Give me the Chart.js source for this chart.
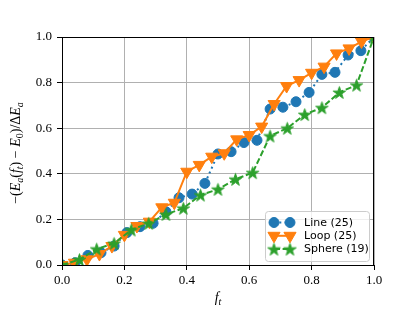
<!DOCTYPE html>
<html>
<head>
<meta charset="utf-8">
<script src="https://cdn.jsdelivr.net/npm/chart.js@4.4.1/dist/chart.umd.min.js"></script>
<style>
  html, body { margin: 0; padding: 0; background: #fff; }
  canvas { display: block; }
</style>
</head>
<body>
<canvas id="myChart" width="415" height="312"></canvas>
<script>
// valores
const labels = ['Line (25)', 'Loop (25)', 'Sphere (19)'];

const lineX = [0, 0.042, 0.083, 0.125, 0.167, 0.208, 0.25, 0.292, 0.333, 0.375, 0.417, 0.458, 0.5,
  0.542, 0.583, 0.625, 0.667, 0.708, 0.75, 0.792, 0.833, 0.875, 0.917, 0.958, 1];
const lineY = [0, 0.01, 0.042, 0.054, 0.083, 0.142, 0.168, 0.183, 0.234, 0.295, 0.311, 0.358, 0.487,
  0.497, 0.537, 0.547, 0.684, 0.692, 0.716, 0.757, 0.836, 0.845, 0.921, 0.94, 1];

const loopX = [0, 0.04, 0.08, 0.12, 0.16, 0.2, 0.24, 0.28, 0.32, 0.36, 0.4, 0.44, 0.48,
  0.52, 0.56, 0.6, 0.64, 0.68, 0.72, 0.76, 0.8, 0.84, 0.88, 0.92, 0.96, 1];
const loopY = [0, 0.01, 0.025, 0.048, 0.083, 0.132, 0.171, 0.19, 0.253, 0.273, 0.409, 0.439, 0.475,
  0.49, 0.551, 0.57, 0.607, 0.706, 0.785, 0.811, 0.843, 0.87, 0.928, 0.95, 0.98, 1];

const sphereX = [0, 0.056, 0.111, 0.167, 0.222, 0.278, 0.333, 0.389, 0.444, 0.5,
  0.556, 0.611, 0.667, 0.722, 0.778, 0.833, 0.889, 0.944, 1];
const sphereY = [0, 0.024, 0.07, 0.095, 0.154, 0.183, 0.222, 0.249, 0.307, 0.332,
  0.376, 0.405, 0.566, 0.6, 0.66, 0.69, 0.757, 0.789, 1];

const xTicks = [0, 0.2, 0.4, 0.6, 0.8, 1.0];
const yTicks = [0, 0.2, 0.4, 0.6, 0.8, 1.0];

const colors = ['#1f77b4', '#ff7f0e', '#2ca02c'];
const serif = '"Liberation Serif", "DejaVu Serif", serif';

// estrella de 5 puntas (el 'star' de Chart.js no es igual)
function makeStar(color, r) {
  const c = document.createElement('canvas');
  const s = Math.ceil(r * 2 + 2);
  c.width = s; c.height = s;
  const g = c.getContext('2d');
  const cx = s / 2, cy = s / 2 + r * 0.1;
  g.beginPath();
  for (let i = 0; i < 10; i++) {
    const rr = i % 2 === 0 ? r : r * 0.382;
    const a = -Math.PI / 2 + i * Math.PI / 5;
    g.lineTo(cx + rr * Math.cos(a), cy + rr * Math.sin(a));
  }
  g.closePath();
  g.fillStyle = color;
  g.strokeStyle = color;
  g.lineWidth = 1;
  g.fill();
  g.stroke();
  return c;
}
const star = makeStar(colors[2], 6.5);

const toPts = (xs, ys) => xs.map((x, i) => ({ x: x, y: ys[i] }));

// texto con subindices (para los titulos de los ejes)
function mathText(ctx, parts, x, y) {
  const big = 14, small = 10;
  let w = 0;
  parts.forEach(p => {
    ctx.font = (p.i ? 'italic ' : '') + (p.s ? small : big) + 'px ' + serif;
    p.w = ctx.measureText(p.t).width;
    w += p.w;
  });
  let cx = x - w / 2;
  ctx.textBaseline = 'alphabetic';
  ctx.textAlign = 'left';
  parts.forEach(p => {
    ctx.font = (p.i ? 'italic ' : '') + (p.s ? small : big) + 'px ' + serif;
    ctx.fillText(p.t, cx, y + (p.s ? 3 : 0));
    cx += p.w;
  });
}

const extras = {
  id: 'extras',
  afterDatasetsDraw(chart) {
    const ctx = chart.ctx, a = chart.chartArea;
    ctx.save();
    ctx.strokeStyle = '#000';
    ctx.lineWidth = 1;
    ctx.strokeRect(Math.round(a.left) + 0.5, Math.round(a.top) + 0.5,
      Math.round(a.right - a.left) - 1, Math.round(a.bottom - a.top));
    ctx.restore();
  },
  afterDraw(chart) {
    const ctx = chart.ctx, a = chart.chartArea;
    ctx.save();
    ctx.fillStyle = '#000';
    // titulo eje x
    mathText(ctx, [{ t: 'f', i: true }, { t: 't', i: true, s: true }], (a.left + a.right) / 2, 302);
    // titulo eje y
    ctx.translate(20, (a.top + a.bottom) / 2 + 2);
    ctx.rotate(-Math.PI / 2);
    mathText(ctx, [
      { t: '\u2212(' }, { t: 'E', i: true }, { t: 'a', i: true, s: true },
      { t: '(' }, { t: 'f', i: true }, { t: 't', i: true, s: true },
      { t: ') \u2212 ' }, { t: 'E', i: true }, { t: '0', s: true },
      { t: ')/\u0394' }, { t: 'E', i: true }, { t: 'a', i: true, s: true }
    ], 0, 0);
    ctx.restore();

    // leyenda
    const bx = 265.5, by = 211.5, bw = 104, bh = 50;
    ctx.save();
    ctx.beginPath();
    ctx.roundRect(bx, by, bw, bh, 3);
    ctx.fillStyle = 'rgba(255,255,255,0.8)';
    ctx.fill();
    ctx.strokeStyle = '#cccccc';
    ctx.lineWidth = 1;
    ctx.stroke();
    chart.data.datasets.forEach((ds, i) => {
      const y = 222.5 + i * 13.3;
      const x1 = 274, x2 = 290;
      ctx.beginPath();
      ctx.setLineDash(ds.borderDash || []);
      ctx.strokeStyle = ds.borderColor;
      ctx.lineWidth = ds.borderWidth;
      ctx.moveTo(x1, y); ctx.lineTo(x2, y);
      ctx.stroke();
      ctx.setLineDash([]);
      ctx.fillStyle = ds.backgroundColor;
      ctx.lineWidth = ds.pointBorderWidth || 1;
      [x1, x2].forEach(px => {
        Chart.helpers.drawPoint(ctx, {
          pointStyle: ds.pointStyle, rotation: ds.pointRotation || 0,
          radius: ds.pointRadius, borderWidth: ds.pointBorderWidth || 1
        }, px, y);
      });
      ctx.fillStyle = '#000';
      ctx.font = '11px "DejaVu Sans", sans-serif';
      ctx.textBaseline = 'middle';
      ctx.textAlign = 'left';
      ctx.fillText(ds.label, 304, y + 0.5);
    });
    ctx.restore();
  }
};

const tickFont = { family: serif, size: 13 };

new Chart(document.getElementById('myChart'), {
  type: 'scatter',
  data: {
    datasets: [
      {
        label: labels[0], data: toPts(lineX, lineY), showLine: true,
        borderColor: colors[0], backgroundColor: colors[0], borderWidth: 2,
        borderDash: [2, 3.3], pointStyle: 'circle', pointRadius: 5, pointBorderWidth: 1,
        order: 3, clip: 0
      },
      {
        label: labels[1], data: toPts(loopX, loopY), showLine: true,
        borderColor: colors[1], backgroundColor: colors[1], borderWidth: 2,
        pointStyle: 'triangle', pointRotation: 180, pointRadius: 7, pointBorderWidth: 1,
        order: 2, clip: 0
      },
      {
        label: labels[2], data: toPts(sphereX, sphereY), showLine: true,
        borderColor: colors[2], backgroundColor: colors[2], borderWidth: 2,
        borderDash: [6, 2.6], pointStyle: star, pointRadius: 6, pointBorderWidth: 1,
        order: 1, clip: 0
      }
    ]
  },
  options: {
    responsive: false,
    animation: false,
    layout: { padding: { top: 37, right: 41, left: 0, bottom: 0 } },
    plugins: { legend: { display: false }, tooltip: { enabled: false } },
    scales: {
      x: {
        type: 'linear', min: 0, max: 1,
        afterBuildTicks: s => { s.ticks = xTicks.map(v => ({ value: v })); },
        afterFit: s => { s.height = 47; },
        ticks: { callback: v => v.toFixed(1), font: tickFont, color: '#000', padding: 3, maxRotation: 0 },
        grid: { color: '#b0b0b0', tickColor: '#000', tickLength: 5, lineWidth: 1 },
        border: { color: '#000', width: 1 }
      },
      y: {
        type: 'linear', min: 0, max: 1,
        afterBuildTicks: s => { s.ticks = yTicks.map(v => ({ value: v })); },
        afterFit: s => { s.width = 62; },
        ticks: { callback: v => v.toFixed(1), font: tickFont, color: '#000', padding: 5 },
        grid: { color: '#b0b0b0', tickColor: '#000', tickLength: 5, lineWidth: 1 },
        border: { color: '#000', width: 1 }
      }
    }
  },
  plugins: [extras]
});
</script>
</body>
</html>
